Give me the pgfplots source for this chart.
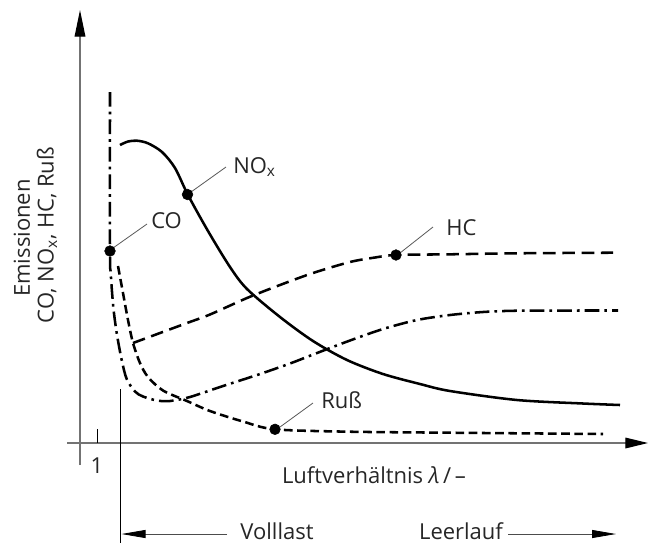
\documentclass[border=0pt]{standalone}
\usepackage{fontspec}
\setmainfont{Open Sans}
\usepackage{pgfplots}
\pgfplotsset{compat=1.18}
\usetikzlibrary{arrows.meta}

% Emission curves of a diesel engine over the air ratio (schematic)
\pgfplotstableread{
x y
120 145
128 141.5
137 140.7
148 143.3
162 152
175 168
188 195
208 231
230 267
247 289
280 317
313 341
347 360
383 374
420 384
450 391
517 400
583 403.5
620 405
}\nox

\pgfplotstableread{
x y
110 92
110 251
110.7 273
113.3 307
116.7 333
121.7 360
126.7 379
135 391.5
143 396.5
157 400.5
170 401
190 397
223 386
257 375
290 363.5
317 353
350 340.5
383 329
417 320
450 315
483 312
517 310.7
583 310.5
618 310.5
}\co

\pgfplotstableread{
x y
133 343
160 333
187 323
210 314.5
247 298
280 285
313 273
350 262
375 257.5
396 255
450 254.3
517 253.3
613 252.7
}\hc

\pgfplotstableread{
x y
118 266
123 293
128 320
133 343
140 363
148 377
163 390.5
187 401
210 411
243 421.5
275 429.3
350 431.7
450 432.7
603 434
}\russ

\begin{document}
\begin{tikzpicture}[
  lbl/.style={font=\fontsize{16.5}{19}\selectfont, inner sep=0pt, text=black!85},
  leader/.style={black!65, line width=0.6pt},
  axisline/.style={black!55, line width=0.9pt},
]
\begin{axis}[
  scale only axis, width=486.75pt, height=408pt,
  xmin=0, xmax=649, ymin=0, ymax=544, y dir=reverse,
  hide axis, clip=false,
]
\path (axis cs:0,0) rectangle (axis cs:649,544);

% coordinate axes
\draw[axisline, -{Triangle[length=20pt,width=8pt,color=black]}]
  (axis cs:80,465) -- (axis cs:80,10);
\draw[axisline, -{Triangle[length=17pt,width=8pt,color=black]}]
  (axis cs:67,443) -- (axis cs:648,443);
\draw[black, line width=0.6pt] (axis cs:97,429) -- (axis cs:97,443);
\node[lbl] at (axis cs:97,466) {1};
\node[lbl, anchor=base] at (axis cs:374,483) {Luftverhältnis \textit{λ}\,/\,–};
\node[lbl, rotate=90] at (axis cs:22,238) {Emissionen};
\node[lbl, rotate=90] at (axis cs:47,235) {CO, NO\textsubscript{x}, HC, Ruß};

% load range
\draw[black, line width=0.6pt] (axis cs:120.7,389) -- (axis cs:120.7,543);
\draw[black!70, line width=0.6pt, -{Triangle[length=18pt,width=6pt,color=black]}]
  (axis cs:227,534) -- (axis cs:121.5,534);
\draw[black!70, line width=0.6pt, -{Triangle[length=18pt,width=6pt,color=black]}]
  (axis cs:508,534) -- (axis cs:616,534);
\node[lbl, anchor=base] at (axis cs:277,539) {Volllast};
\node[lbl, anchor=base] at (axis cs:461,539) {Leerlauf};

% curves
\addplot[black, line width=1.9pt, smooth] table {\nox};
\addplot[black, line width=1.9pt, smooth,
  dash pattern=on 11pt off 3.8pt on 2pt off 3.8pt] table {\co};
\addplot[black, line width=1.9pt, smooth,
  dash pattern=on 9.5pt off 5pt] table {\hc};
\addplot[black, line width=1.9pt, smooth,
  dash pattern=on 6.5pt off 3.4pt] table {\russ};

% marked points with leaders
\addplot[only marks, mark=*, mark size=4pt, black]
  coordinates {(110,251) (187.5,194.5) (396,255) (275,429.3)};
\draw[leader] (axis cs:113,248) -- (axis cs:147,224);
\draw[leader] (axis cs:191,192) -- (axis cs:226,167);
\draw[leader] (axis cs:400,253) -- (axis cs:433,227);
\draw[leader] (axis cs:280,427) -- (axis cs:313,403);
\node[lbl, anchor=base west] at (axis cs:151,228) {CO};
\node[lbl, anchor=base west] at (axis cs:233,173) {NO\textsubscript{x}};
\node[lbl, anchor=base west] at (axis cs:446,235) {HC};
\node[lbl, anchor=base west] at (axis cs:321,408) {Ruß};
\end{axis}
\end{tikzpicture}
\end{document}
